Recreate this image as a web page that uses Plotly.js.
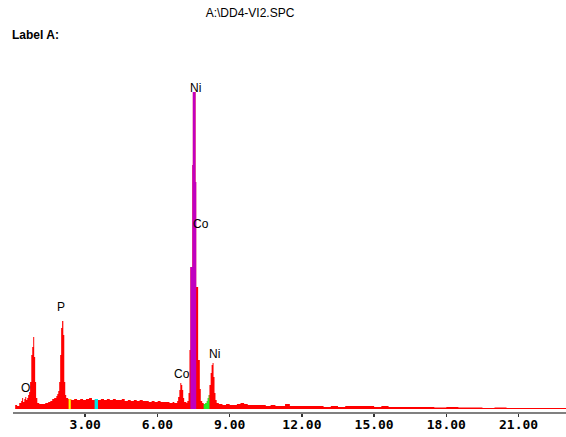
<!DOCTYPE html>
<html>
<head>
<meta charset="utf-8">
<script src="https://cdn.plot.ly/plotly-3.0.1.min.js"></script>
<style>
html,body{margin:0;padding:0;background:#fff;}
#chart{width:566px;height:437px;}
</style>
</head>
<body>
<div id="chart"></div>
<script>
// Energy (keV) and counts (relative)
const energy = [
0.09,0.17,0.26,0.34,0.38,0.42,0.47,0.51,0.55,0.59,
0.63,0.67,0.71,0.76,0.80,0.84,0.88,0.92,0.96,1.01,
1.09,1.21,1.34,1.46,1.55,1.63,1.71,1.80,1.84,1.88,
1.92,1.96,2.00,2.04,2.09,2.13,2.17,2.21,2.29,
2.42,2.54,2.66,2.79,2.91,3.03,3.16,3.28,3.40,3.53,
3.65,3.78,3.90,4.02,4.15,4.27,4.40,4.52,4.64,4.77,
4.89,5.02,5.14,5.26,5.39,5.51,5.64,5.76,5.88,6.01,
6.13,6.26,6.38,6.50,6.63,
6.70,6.78,6.82,6.86,6.91,6.95,6.99,7.03,7.07,7.11,
7.20,7.24,7.29,7.33,7.37,7.45,7.47,7.58,7.61,7.69,
7.76,7.80,7.86,7.92,7.99,8.05,8.09,8.13,8.16,8.21,
8.25,8.29,8.33,8.37,8.41,8.46,
8.55,8.70,8.85,9.00,9.15,9.30,9.45,9.60,9.75,9.90,
10.1,10.3,10.5,10.7,10.9,11.1,11.3,11.5,11.7,12.0,
12.3,12.6,12.9,13.2,13.5,13.8,14.1,14.4,14.7,15.0,
15.3,15.6,16.0,16.5,17.0,17.5,18.0,18.5,19.0,19.5,
20.0,20.5,21.0,21.5,22.0,22.5,23.0
];
const counts = [
4,3,6,8,11,7,10,12,9,11,
14,17,27,54,62,72,52,27,11,6,
5,5,6,7,8,10,11,13,15,18,
27,54,81,88,74,27,14,11,10,
9,10,9,10,9,10,11,9,10,9,
10,9,10,9,10,9,9,10,8,9,
8,9,8,9,8,8,7,8,7,8,
7,7,7,6,7,
6,6,8,12,19,26,24,19,11,7,
6,8,16,59,142,244,317,227,122,49,
20,8,6,5,6,8,11,14,24,36,
44,46,32,16,9,6,
5,4,5,4,4,5,6,5,4,4,
4,4,3,4,3,3,5,3,3,3,
3,3,2,3,2,3,3,3,3,2,
3,2,2,2,2,1.5,2,1.5,1.5,1,
1.5,1,1,1,1,1,1
];

// Regions of interest (keV) and their colours
const roiStart = [2.31, 3.39, 7.37, 7.92];
const roiEnd   = [2.40, 3.53, 7.61, 8.16];
const roiColor = ['#ffff00', '#00e8e8', '#c000c0', '#22ee22'];

// Peak labels
const peakText   = ['O', 'P', 'Co', 'Ni', 'Ni', 'Co'];
const peakEnergy = [0.51, 2.00, 7.04, 8.36, 7.57, 7.81];
const peakHeight = [21, 102, 35, 55, 321, 185];

// X tick labels
const tickVals   = [3, 6, 9, 12, 15, 18, 21];
const tickLabels = ['3.00', '6.00', '9.00', '12.00', '15.00', '18.00', '21.00'];

function valueAt(e) {
  let v = 0;
  for (let i = 0; i < energy.length; i++) if (energy[i] <= e) v = counts[i];
  return v;
}
function roiTrace(a, b, color) {
  const xs = [a], ys = [valueAt(a)];
  for (let i = 0; i < energy.length; i++) {
    if (energy[i] > a && energy[i] < b) { xs.push(energy[i]); ys.push(counts[i]); }
  }
  xs.push(b); ys.push(valueAt(b));
  return {x: xs, y: ys, type: 'scatter', mode: 'lines', line: {shape: 'hv', width: 0, color: color},
          fill: 'tozeroy', fillcolor: color, hoverinfo: 'skip', showlegend: false};
}

const traces = [{
  x: energy, y: counts, type: 'scatter', mode: 'lines',
  line: {shape: 'hv', width: 0, color: '#ff0000'},
  fill: 'tozeroy', fillcolor: '#ff0000', showlegend: false
}];
for (let k = 0; k < roiStart.length; k++) traces.push(roiTrace(roiStart[k], roiEnd[k], roiColor[k]));

const annotations = peakText.map((t, i) => ({
  x: peakEnergy[i], y: peakHeight[i], xref: 'x', yref: 'y', text: t, showarrow: false,
  font: {family: 'Liberation Sans, Arial, sans-serif', size: 12, color: '#000'},
  xanchor: 'center', yanchor: 'middle'
}));
annotations.push({
  x: -0.005, y: 1.07, xref: 'paper', yref: 'paper', text: 'Label A:', showarrow: false,
  xanchor: 'left', yanchor: 'middle',
  font: {family: 'Liberation Sans, Arial, sans-serif', size: 12, color: '#000', weight: 'bold'}
});

const layout = {
  width: 566, height: 437,
  margin: {l: 13, r: 0, t: 60, b: 25, pad: 0},
  paper_bgcolor: '#fff', plot_bgcolor: '#fff',
  title: {
    text: 'A:\\DD4-VI2.SPC',
    x: 250 / 566, xref: 'container', xanchor: 'center',
    y: 1 - 13 / 437, yref: 'container', yanchor: 'middle',
    font: {family: 'Liberation Sans, Arial, sans-serif', size: 12, color: '#000'}
  },
  xaxis: {
    range: [0, 22.97], showgrid: false, zeroline: false,
    showline: true, linecolor: '#808080', linewidth: 2,
    ticks: 'outside', ticklen: 3, tickwidth: 1.5, tickcolor: '#333',
    ticklabelstandoff: -4,
    tickvals: tickVals, ticktext: tickLabels,
    tickfont: {family: 'DejaVu Sans Mono, monospace', size: 13, color: '#000', weight: 'bold'},
    fixedrange: true
  },
  yaxis: {range: [-3, 349], visible: false, fixedrange: true},
  annotations: annotations,
  showlegend: false
};

Plotly.newPlot('chart', traces, layout, {displayModeBar: false, staticPlot: true});
</script>
</body>
</html>
